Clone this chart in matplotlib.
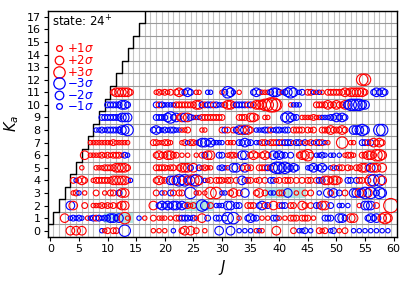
import numpy as np
import matplotlib
matplotlib.use("Agg")
import matplotlib.pyplot as plt
from matplotlib.lines import Line2D

# ---------------- data ----------------
# One character per half-unit of J, starting at J = 0 (groups of 5 J separated by spaces).
# '.' = no line; '1'..'5' = positive deviation class (red); 'a'..'e' = negative class (blue)
ka0_row = ".......3.3 .3......a1 2.22..d... ......1.1. 1..a..23.3 .2..1....c ...c..a.a. a.1a1....3 .....2.aab .a..212.ab .1.2..a.a. a.a.a.a.a."
ka1_row = ".....3.aba ba.1ab2bab bccbc.41.. .a.1..2.11 1.1.22bbba b1.3.b..bb .bd.d.1..b cbb.1.1.bb 1.1.222.22 2.1...bbb. .ccb.33... .bcbc.343."
ka2_row = ".......c3. ..2..11121 212.233... ......3.bc bcbccbcb21 2..dc.2.aa a.cc.bb..2 22.bc2b.3. 2bb.22..32 .2.bb33.b. .aa.a...1. ccc.2....5"
ka3_row = "........12 a.1...2..1 .22.b33... .......2.a 1.b2.22..d .11.1.4.4. aa.23.2.c. ..23.2.aa. 22.c..1..2 .2..a..c2c .b.2..cc3c d3d.bdc..."
ka4_row = "........2a 232..12222 22333332a. .......232 2.cc3dcd3c 4d3.a12.22 2122.2.cb2 2.12.2.bb1 2.222.2.2. 22.2bb3323 32..bb.b22 .24d.d3..."
ka5_row = ".......... .1....1112 22233332.. .......222 2122.2333b 3.b1211..a ba1.cc.2c2 2..222b2cd dcdcbcb... abcabca.a2 a22.21.223 32c33.3..."
ka6_row = ".......... ..3.111121 212221ba.. .......232 23322.1.1. .1.2b33..b b.1221.cc. 232.232.cb cbb.b..233 42.aaba.aa .a.1221..2 2332443..."
ka7_row = ".......... ....111111 11211111.. ......2211 221...12a2 21bccbcaaa a.111.bbcb b.aa22a222 b2bbb1bb1b 12a2b2a1.. ..4..11..b b2b3232..."
ka8_row = ".......... ......aaba bbbbbccd.. ......bcba babbaa112. ...11..... 2b2.2bc3c3 2.aaabb2ab babb.2222. 212..22232 2232..cccd c....dd..."
ka9_row = ".......... ........bb bbbbbccc.. .......bbb bcdbc23c3b a1a2222222 2.....222. 332..11... ..cdcbb.11 11211aaabb cbcb...... .........."
ka10_row = ".......... .......... bbbbbccb.. .......b2b aaaa222222 233b2bb2ba a2332bbbb2 b233344554 ....1aaa.. ...2222322 3223cddddc c........."
ka11_row = ".......... .......... ..2333332. .......121 212.232bcb .11..aa... 1bdca.1... .bcb111bcc b1bcdc.ab. 22a1a1.222 2223233333 2..bcbcb.."
ka12_row = ".......... .......... .......... .......... .......... .......... .......... .......... .......... .......... .........4 4........."

ka_rows = [ka0_row, ka1_row, ka2_row, ka3_row, ka4_row, ka5_row, ka6_row,
           ka7_row, ka8_row, ka9_row, ka10_row, ka11_row, ka12_row]
class_sigma = {1: 0.5, 2: 1.0, 3: 2.0, 4: 3.0, 5: 4.0}

# highlighted (J range, Ka) blocks
hl_j_start = [9.4, 23.6, 37.5]
hl_j_end = [14.5, 28.5, 44.5]
hl_ka = [1, 2, 3]

# boundary Ka <= J
boundary_J = np.arange(0, 18)

legend_sigmas = [1, 2, 3, -3, -2, -1]
legend_labels = [r"$+1\sigma$", r"$+2\sigma$", r"$+3\sigma$",
                 r"$-3\sigma$", r"$-2\sigma$", r"$-1\sigma$"]
state_label = r"state: 24$^{+}$"

# ---------------- parse ----------------
Js, Kas, Vals = [], [], []
for ka, row in enumerate(ka_rows):
    s = row.replace(" ", "")
    for i, ch in enumerate(s):
        if ch == ".":
            continue
        if ch.isdigit():
            v = class_sigma[int(ch)]
        else:
            v = -class_sigma["abcde".index(ch) + 1]
        Js.append(i / 2.0)
        Kas.append(ka)
        Vals.append(v)
Js = np.array(Js); Kas = np.array(Kas); Vals = np.array(Vals)

RED = "#ff0000"
BLUE = "#0000ff"


def diam_pt(sig):
    return (3.0 + 2.8 * abs(sig)) * 0.72  # px -> pt at 100 dpi


# ---------------- figure ----------------
fig = plt.figure(figsize=(4.08, 2.81), dpi=100)
ax = fig.add_axes([47.5 / 408, 1 - 237.0 / 281, (396.5 - 47.5) / 408, (237.0 - 10.5) / 281])

ax.set_xlim(-0.5, 60.5)
ax.set_ylim(-0.5, 17.5)

# grid on half-integer positions
ax.set_xticks(np.arange(-0.5, 61, 1), minor=True)
ax.set_yticks(np.arange(-0.5, 18, 1), minor=True)
ax.tick_params(which="minor", length=0)
ax.set_axisbelow(True)
ax.grid(which="minor", axis="x", color="#c4c4c4", lw=0.8)
ax.grid(which="minor", axis="y", color="#9a9a9a", lw=0.8)

# white area where Ka > J, with staircase boundary
bx = boundary_J - 0.5
by = boundary_J + 0.5
ax.fill_between(bx, by, 17.5, step="post", color="white", zorder=1, lw=0)
ax.step(bx, by, where="post", color="black", lw=1.0, zorder=2)

# highlight blocks
for j0, j1, k in zip(hl_j_start, hl_j_end, hl_ka):
    ax.add_patch(plt.Rectangle((j0, k - 0.4), j1 - j0, 0.8, facecolor="#7fd8d2",
                               alpha=0.6, edgecolor="none", zorder=1.5))

cols = np.where(Vals > 0, RED, BLUE)
sizes = np.array([diam_pt(v) ** 2 for v in Vals])
ax.scatter(Js, Kas, s=sizes, facecolors="none", edgecolors=cols, linewidths=0.8, zorder=3)

ax.set_xticks(np.arange(0, 61, 5))
ax.set_yticks(np.arange(0, 18, 1))
ax.tick_params(which="major", labelsize=8, length=3, width=0.8, pad=2)
for sp in ax.spines.values():
    sp.set_linewidth(1.0)

ax.set_xlabel(r"$J$", fontsize=10.5, labelpad=3)
ax.set_ylabel(r"$K_a$", fontsize=10.5, labelpad=4)

ax.text(0.012, 0.985, state_label, transform=ax.transAxes, ha="left", va="top",
        fontsize=8.5, zorder=5)

handles = []
for sg in legend_sigmas:
    c = RED if sg > 0 else BLUE
    handles.append(Line2D([], [], ls="none", marker="o", markerfacecolor="none",
                          markeredgecolor=c, markeredgewidth=0.9, markersize=diam_pt(sg)))
leg = ax.legend(handles, legend_labels, loc="upper left", bbox_to_anchor=(-0.005, 0.89),
                frameon=False, fontsize=8.5, handlelength=1.0, handletextpad=0.2,
                labelspacing=-0.12, borderaxespad=0.2)
for t, sg in zip(leg.get_texts(), legend_sigmas):
    t.set_color(RED if sg > 0 else BLUE)
leg.set_zorder(5)

fig.savefig("out.png", dpi=100)
